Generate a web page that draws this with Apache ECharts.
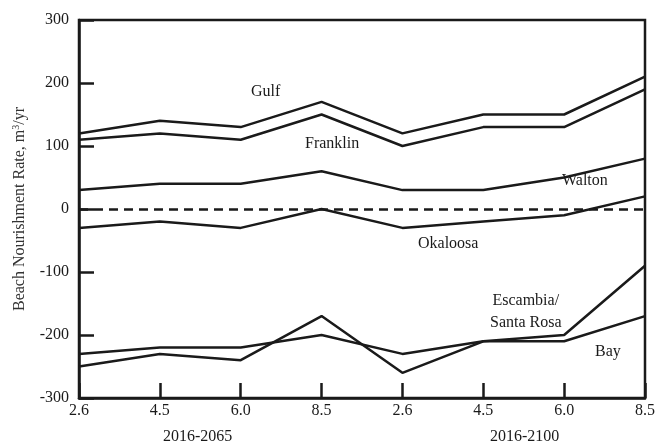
<!DOCTYPE html>
<html>
<head>
<meta charset="utf-8">
<script src="https://cdn.jsdelivr.net/npm/echarts@6/dist/echarts.min.js"></script>
<style>html,body{margin:0;padding:0;background:#fff}#c{width:658px;height:446px}</style>
</head>
<body>
<div id="c"></div>
<script>
const categories = ['2.6','4.5','6.0','8.5','2.6','4.5','6.0','8.5'];
const gulf      = [120, 140, 130, 170, 120, 150, 150, 210];
const franklin  = [110, 120, 110, 150, 100, 130, 130, 190];
const walton    = [30, 40, 40, 60, 30, 30, 50, 80];
const okaloosa  = [-30, -20, -30, 0, -30, -20, -10, 20];
const escambia  = [-250, -230, -240, -170, -260, -210, -200, -90];
const bay       = [-230, -220, -220, -200, -230, -210, -210, -170];
const yTicks = [-300, -200, -100, 0, 100, 200, 300];
const periodLabels = ['2016-2065', '2016-2100'];

const FONT = 'Liberation Serif';
const INK = '#1a1a1a';
const F = '16px "Liberation Serif"';
const chart = echarts.init(document.getElementById('c'), null, {renderer: 'canvas'});

function line(name, data, extra) {
  return Object.assign({
    name, type: 'line', data, symbol: 'none', silent: true,
    lineStyle: {color: INK, width: 2.5}
  }, extra || {});
}

chart.setOption({
  animation: false,
  grid: {left: 79, right: 7, top: 20, bottom: 48, show: true, borderColor: INK, borderWidth: 2.5},
  xAxis: {
    type: 'category', data: categories, boundaryGap: false,
    axisLine: {onZero: false, lineStyle: {color: INK, width: 2.5}},
    axisTick: {inside: true, length: 15, lineStyle: {color: INK, width: 2.5}},
    axisLabel: {color: INK, fontFamily: FONT, fontSize: 16, margin: 5, showMaxLabel: true, showMinLabel: true, interval: 0},
    splitLine: {show: false}
  },
  yAxis: {
    type: 'value', min: yTicks[0], max: yTicks[yTicks.length - 1], interval: 100,
    name: '{a|Beach Nourishment Rate, m}{s|3}{a|/yr}',
    nameLocation: 'middle', nameGap: 50, nameRotate: 90,
    nameTextStyle: {rich: {
      a: {fontFamily: FONT, fontSize: 16, color: '#333'},
      s: {fontFamily: FONT, fontSize: 10, color: '#333', verticalAlign: 'top', padding: [0,0,8,0]}
    }},
    axisLine: {show: true, lineStyle: {color: INK, width: 2.5}},
    axisTick: {show: true, inside: true, length: 15, lineStyle: {color: INK, width: 2.5}},
    axisLabel: {color: INK, fontFamily: FONT, fontSize: 16, margin: 10},
    splitLine: {show: false}
  },
  series: [
    line('Gulf', gulf),
    line('Franklin', franklin),
    line('Walton', walton),
    line('Okaloosa', okaloosa, {
      markLine: {
        silent: true, symbol: 'none', label: {show: false},
        lineStyle: {color: INK, width: 2.5, type: [9, 6]},
        data: [{yAxis: 0}]
      }
    }),
    line('Escambia/Santa Rosa', escambia),
    line('Bay', bay)
  ],
  graphic: [
    {type: 'text', left: 251, top: 84, style: {text: 'Gulf', font: F, fill: INK}},
    {type: 'text', left: 305, top: 136, style: {text: 'Franklin', font: F, fill: INK}},
    {type: 'text', left: 562, top: 173, style: {text: 'Walton', font: F, fill: INK}},
    {type: 'text', left: 418, top: 236, style: {text: 'Okaloosa', font: F, fill: INK}},
    {type: 'text', left: 490, top: 290, style: {text: 'Escambia/\nSanta Rosa', font: F, fill: INK, textAlign: 'center', lineHeight: 22}},
    {type: 'text', left: 595, top: 344, style: {text: 'Bay', font: F, fill: INK}},
    {type: 'text', left: 163, top: 429, style: {text: periodLabels[0], font: F, fill: INK}},
    {type: 'text', left: 490, top: 429, style: {text: periodLabels[1], font: F, fill: INK}}
  ]
});
</script>
</body>
</html>
